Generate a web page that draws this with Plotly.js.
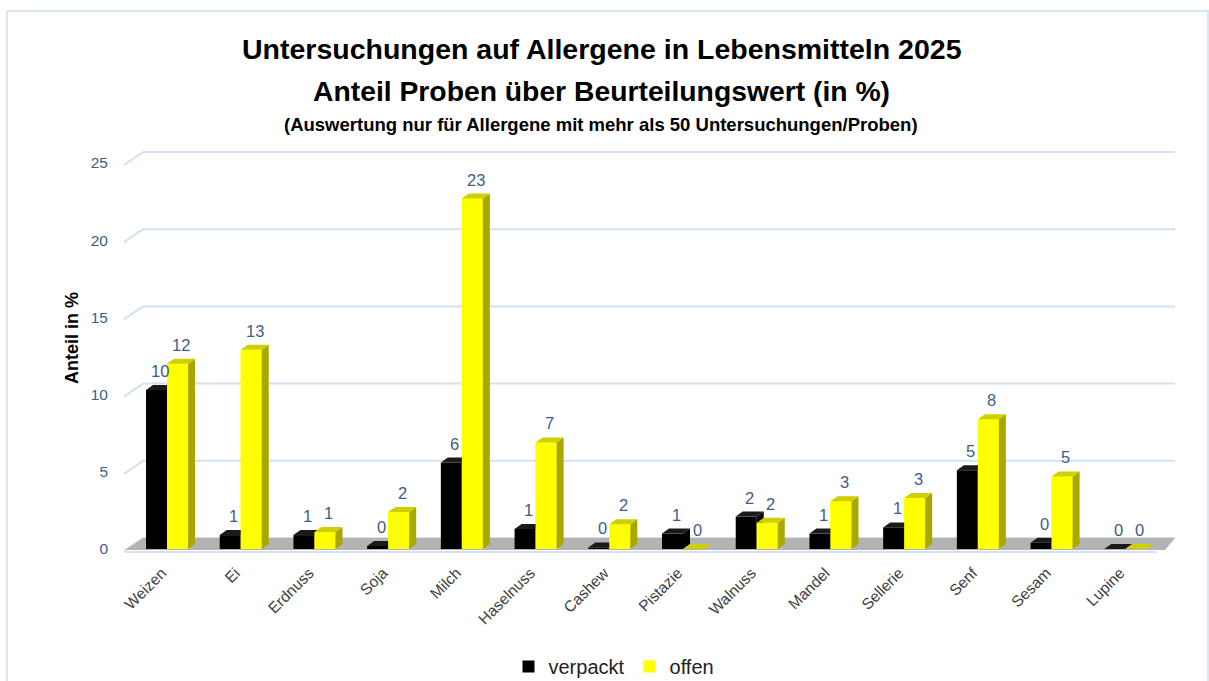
<!DOCTYPE html>
<html>
<head>
<meta charset="utf-8">
<script src="https://cdn.plot.ly/plotly-3.0.1.min.js"></script>
<style>html,body{margin:0;padding:0;background:#fff;overflow:hidden;}#chart{width:1209px;height:681px;}</style>
</head>
<body>
<div id="chart"></div>
<script>
// ---- data ----
const categories = ['Weizen','Ei','Erdnuss','Soja','Milch','Haselnuss','Cashew','Pistazie','Walnuss','Mandel','Sellerie','Senf','Sesam','Lupine'];
const verpackt = [10.3, 0.9, 0.9, 0.2, 5.6, 1.3, 0.1, 1.0, 2.1, 1.0, 1.4, 5.1, 0.4, 0.0];
const offen    = [12.0, 12.9, 1.1, 2.4, 22.7, 6.9, 1.6, 0.0, 1.7, 3.1, 3.3, 8.4, 4.7, 0.0];
const yTicks = [0, 5, 10, 15, 20, 25];
const seriesNames = ['verpackt', 'offen'];
const titleLines = [
  'Untersuchungen auf Allergene in Lebensmitteln 2025',
  'Anteil Proben über Beurteilungswert (in %)',
  '(Auswertung nur für Allergene mit mehr als 50 Untersuchungen/Proben)'
];
const yTitle = 'Anteil in %';

// ---- layout geometry ----
const W = 1209, H = 681;
const M = {l: 125, r: 52, t: 163, b: 132, autoexpand: false};
const PW = W - M.l - M.r;   // 1032
const PH = H - M.t - M.b;   // 386
const yMax = 25;
const xMin = -0.5, xMax = categories.length - 0.5;
const pxX = PW / (xMax - xMin);
const pxY = PH / yMax;
const px2x = p => p / pxX;
const px2y = p => p / pxY;
const bw = 0.285, offB = -0.215, offY = offB + bw;
const bdx = px2x(7), bdy = px2y(5);          // bar depth
const wdx = 18 / PW, wdy = 11 / PH;          // wall depth (paper units)
const py = p => (M.t + PH - p) / PH;         // pixel row -> paper y
const pxp = p => (p - M.l) / PW;             // pixel col -> paper x

const blue = '#3E5C8A';
const gridCol = '#D5E1F2';

const idx = categories.map((c, i) => i);

const traces = [
  {type: 'bar', name: seriesNames[0], x: idx, y: verpackt, width: bw, offset: offB,
   marker: {color: '#000000', line: {width: 0}}, hoverinfo: 'y+name'},
  {type: 'bar', name: seriesNames[1], x: idx, y: offen, width: bw, offset: offY,
   marker: {color: '#FFFF00', line: {width: 0}}, hoverinfo: 'y+name'}
];

const shapes = [];
// outer frame
shapes.push({type: 'rect', xref: 'paper', yref: 'paper', x0: pxp(7), x1: pxp(1208), y0: py(690), y1: py(11),
  line: {color: '#DAE4F2', width: 2}, layer: 'below'});
// back wall gridlines and diagonals
yTicks.forEach(v => {
  shapes.push({type: 'line', xref: 'paper', yref: 'paper', x0: wdx, x1: 1 + wdx, y0: v / yMax + wdy, y1: v / yMax + wdy,
    line: {color: gridCol, width: 2}, layer: 'below'});
  shapes.push({type: 'line', xref: 'paper', yref: 'paper', x0: -1 / PW, x1: wdx, y0: v / yMax - 2 / PH, y1: v / yMax + wdy,
    line: {color: gridCol, width: 2}, layer: 'below'});
});
// floor
shapes.push({type: 'path', xref: 'paper', yref: 'paper',
  path: `M0,${-1/PH} L${wdx},${wdy} L${1 + wdx},${wdy} L${1 + 8/PW},${-1/PH} Z`,
  fillcolor: '#B3B3B3', line: {width: 0}, layer: 'below'});
// front floor edge line
shapes.push({type: 'line', xref: 'paper', yref: 'paper', x0: 0, x1: 1, y0: -3 / PH, y1: -3 / PH,
  line: {color: gridCol, width: 2}, layer: 'below'});

// 3D faces of bars
const poly = (pts) => 'M' + pts.map(p => p[0] + ',' + p[1]).join(' L') + ' Z';
const face = (pts, col) => ({type: 'path', xref: 'x', yref: 'y', path: poly(pts), fillcolor: col, line: {width: 0}, layer: 'above'});
idx.forEach(i => {
  const vb = verpackt[i], vy = offen[i];
  const bL = i + offB, bR = bL + bw, yR = bR + bw;
  shapes.push(face([[bR, 0], [bR + bdx, bdy], [bR + bdx, vb + bdy], [bR, vb]], '#000000'));
  shapes.push(face([[bL, vb], [bL + bdx, vb + bdy], [bR + bdx, vb + bdy], [bR, vb]], '#1A1A1A'));
  shapes.push(face([[bR, 0], [yR, 0], [yR, vy], [bR, vy]], '#FFFF00'));
  shapes.push(face([[yR, 0], [yR + bdx, bdy], [yR + bdx, vy + bdy], [yR, vy]], '#A9A800'));
  shapes.push(face([[bR, vy], [bR + bdx, vy + bdy], [yR + bdx, vy + bdy], [yR, vy]], '#CFCF00'));
});

const annotations = [];
idx.forEach(i => {
  [[verpackt, offB], [offen, offY]].forEach(([arr, off]) => {
    annotations.push({x: i + off + bw / 2 + bdx / 2, y: arr[i], xref: 'x', yref: 'y',
      text: String(Math.round(arr[i])), showarrow: false, yanchor: 'middle', xanchor: 'center', yshift: 19,
      font: {family: 'Liberation Sans, Arial, sans-serif', size: 16.5, color: blue}});
  });
});
// titles
const titleFont = {family: 'Liberation Sans, Arial, sans-serif', color: '#000000'};
annotations.push({xref: 'paper', yref: 'paper', x: pxp(602), y: py(49), xanchor: 'center', yanchor: 'middle', showarrow: false,
  text: '<b>' + titleLines[0] + '</b>', font: Object.assign({size: 28.5}, titleFont)});
annotations.push({xref: 'paper', yref: 'paper', x: pxp(601), y: py(91), xanchor: 'center', yanchor: 'middle', showarrow: false,
  text: '<b>' + titleLines[1] + '</b>', font: Object.assign({size: 28.3}, titleFont)});
annotations.push({xref: 'paper', yref: 'paper', x: pxp(601), y: py(124), xanchor: 'center', yanchor: 'middle', showarrow: false,
  text: '<b>' + titleLines[2] + '</b>', font: Object.assign({size: 18.5}, titleFont)});
annotations.push({xref: 'paper', yref: 'paper', x: pxp(72), y: py(338), xanchor: 'center', yanchor: 'middle', showarrow: false,
  textangle: -90, text: '<b>' + yTitle + '</b>', font: Object.assign({size: 18}, titleFont)});

const layout = {
  width: W, height: H,
  margin: M,
  paper_bgcolor: '#FFFFFF', plot_bgcolor: 'rgba(0,0,0,0)',
  barmode: 'overlay',
  showlegend: true,
  legend: {orientation: 'h', x: pxp(614), xanchor: 'center', y: py(647), yanchor: 'top',
    font: {family: 'Liberation Sans, Arial, sans-serif', size: 20, color: '#222222'}},
  xaxis: {range: [xMin, xMax], tickmode: 'array', tickvals: idx, ticktext: categories, tickangle: -45,
    showgrid: false, zeroline: false, showline: false, ticks: '', ticklabelstandoff: 11,
    tickfont: {family: 'Liberation Sans, Arial, sans-serif', size: 15.5, color: '#404040'}, fixedrange: true},
  yaxis: {range: [0, yMax], tickmode: 'array', tickvals: yTicks, ticktext: yTicks.map(String),
    showgrid: false, zeroline: false, showline: false, ticks: '', ticklabelstandoff: 16,
    tickfont: {family: 'Liberation Sans, Arial, sans-serif', size: 15.5, color: blue}, fixedrange: true},
  shapes: shapes,
  annotations: annotations
};

Plotly.newPlot('chart', traces, layout, {displayModeBar: false, staticPlot: true});
</script>
</body>
</html>
